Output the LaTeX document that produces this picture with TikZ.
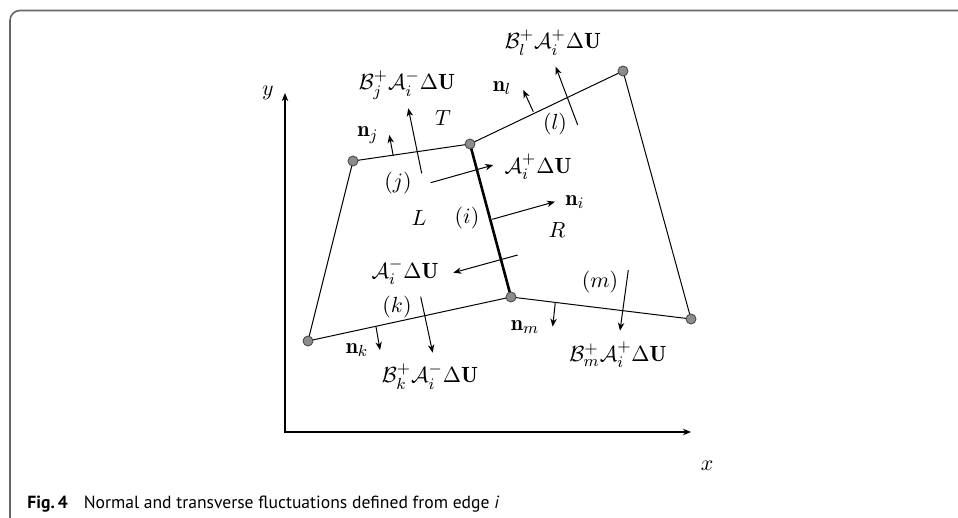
\documentclass[tikz,border=0pt]{standalone}
\usepackage{amsmath}
\usepackage{fontspec}
\newfontfamily\capfont{PT Sans}
\usetikzlibrary{arrows.meta}
\begin{document}
\begin{tikzpicture}[x=0.5pt,y=-0.5pt,
  lbl/.style={inner sep=0pt, font=\fontsize{11}{13}\selectfont},
  edge/.style={line width=0.5pt, black},
  thickedge/.style={line width=1.3pt, black},
  vec/.style={line width=0.5pt, -{Stealth[length=4pt,width=3.2pt,inset=1.2pt]}},
  axis/.style={line width=0.6pt, {Stealth[length=4pt,width=3.2pt,inset=1.2pt]}-{Stealth[length=4pt,width=3.2pt,inset=1.2pt]}},
  vdot/.style={circle, fill=black!45, draw=black!70, line width=0.45pt, minimum size=5pt, inner sep=0pt},
  frame/.style={line width=0.8pt, draw=black!60}]
\useasboundingbox (0,0) rectangle (958,518);
% frame
\coordinate (fr1) at (958,10.5);
\coordinate (fr2) at (10,10.5);
\coordinate (fr3) at (10,518);
\draw[frame, rounded corners=5pt] (fr1) -- (fr2) -- (fr3);
% axes
\coordinate (Ytip) at (285,93);
\coordinate (O) at (285,432);
\coordinate (Xtip) at (691,432);
\draw[axis] (Ytip) -- (O) -- (Xtip);
\node[lbl] (ylab) at (268,93) {$y$};
\node[lbl] (xlab) at (707,466) {$x$};
% vertices
\coordinate (A) at (353,161);
\coordinate (B) at (470,144);
\coordinate (C) at (623,71);
\coordinate (D) at (691,319);
\coordinate (E) at (511,297);
\coordinate (F) at (308,341);
\draw[edge] (A) -- (B);
\draw[edge] (B) -- (C);
\draw[edge] (C) -- (D);
\draw[edge] (D) -- (E);
\draw[edge] (E) -- (F);
\draw[edge] (F) -- (A);
\draw[thickedge] (B) -- (E);
\foreach \v in {A,B,C,D,E,F} \node[vdot] (d\v) at (\v) {};
% arrows
\coordinate (nj0) at (393.3,156); \coordinate (nj1) at (389.3,135);
\draw[vec] (nj0) -- (nj1);
\coordinate (bj0) at (421.7,173.3); \coordinate (bj1) at (408.3,108.3);
\draw[vec] (bj0) -- (bj1);
\coordinate (nl0) at (533.3,111.7); \coordinate (nl1) at (523.3,90);
\draw[vec] (nl0) -- (nl1);
\coordinate (bl0) at (577.7,125); \coordinate (bl1) at (555.7,66.7);
\draw[vec] (bl0) -- (bl1);
\coordinate (ap0) at (430.7,182.7); \coordinate (ap1) at (493.3,165);
\draw[vec] (ap0) -- (ap1);
\coordinate (ni0) at (492.3,219.3); \coordinate (ni1) at (555,201.7);
\draw[vec] (ni0) -- (ni1);
\coordinate (am0) at (517.7,255); \coordinate (am1) at (453.3,272.7);
\draw[vec] (am0) -- (am1);
\coordinate (bk0) at (420.7,296.7); \coordinate (bk1) at (432.7,352.7);
\draw[vec] (bk0) -- (bk1);
\coordinate (nk0) at (376,326.7); \coordinate (nk1) at (380,350);
\draw[vec] (nk0) -- (nk1);
\coordinate (nm0) at (555.3,302.3); \coordinate (nm1) at (552.7,326.7);
\draw[vec] (nm0) -- (nm1);
\coordinate (bm0) at (628.3,270); \coordinate (bm1) at (620,330.7);
\draw[vec] (bm0) -- (bm1);
% labels
\node[lbl] (Bl) at (553,43) {$\mathcal{B}_l^+\mathcal{A}_i^+\Delta\mathbf{U}$};
\node[lbl] (Bj) at (407,85) {$\mathcal{B}_j^+\mathcal{A}_i^-\Delta\mathbf{U}$};
\node[lbl] (nl) at (502,88) {$\mathbf{n}_l$};
\node[lbl] (T) at (443,118) {$T$};
\node[lbl] (nj) at (368,135) {$\mathbf{n}_j$};
\node[lbl] (l) at (555,124) {$(l)$};
\node[lbl] (j) at (398,183) {$(j)$};
\node[lbl] (Ap) at (538,167) {$\mathcal{A}_i^+\Delta\mathbf{U}$};
\node[lbl] (ni) at (575,202) {$\mathbf{n}_i$};
\node[lbl] (L) at (419,218) {$L$};
\node[lbl] (i) at (467,218) {$(i)$};
\node[lbl] (R) at (557,230) {$R$};
\node[lbl] (Am) at (405,272) {$\mathcal{A}_i^-\Delta\mathbf{U}$};
\node[lbl] (k) at (397,307) {$(k)$};
\node[lbl] (m) at (600,282) {$(m)$};
\node[lbl] (nm) at (525,327) {$\mathbf{n}_m$};
\node[lbl] (nk) at (357,350) {$\mathbf{n}_k$};
\node[lbl] (Bk) at (430,377) {$\mathcal{B}_k^+\mathcal{A}_i^-\Delta\mathbf{U}$};
\node[lbl] (Bm) at (618,355) {$\mathcal{B}_m^+\mathcal{A}_i^+\Delta\mathbf{U}$};
% caption
\node[anchor=base west, inner sep=0pt, font=\capfont\fontsize{8.8}{11}\selectfont] (cap) at (27,508)
  {\textbf{Fig.\,4}\hspace{8pt}Normal and transverse fluctuations defined from edge \textit{i}};
\end{tikzpicture}
\end{document}
